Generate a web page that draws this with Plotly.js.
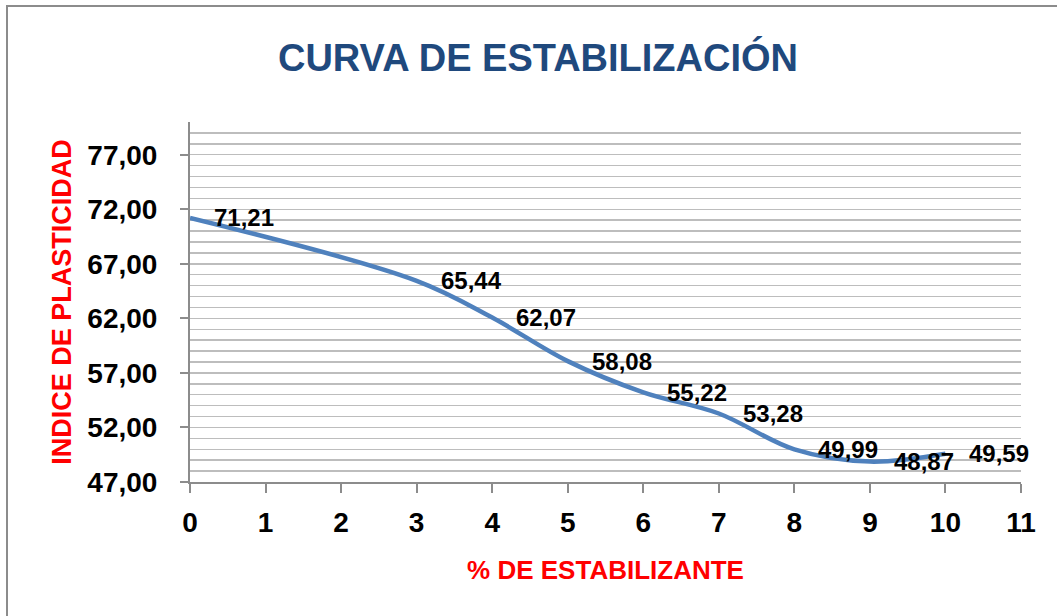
<!DOCTYPE html>
<html>
<head>
<meta charset="utf-8">
<script src="https://cdn.plot.ly/plotly-3.0.1.min.js"></script>
<style>
  html, body { margin: 0; padding: 0; background: #fff; }
  #wrap { position: relative; width: 1057px; height: 616px; overflow: hidden; }
  #chart { width: 1057px; height: 616px; }
  #frame { position: absolute; left: 6px; top: 5px; width: 1200px; height: 800px;
           border-left: 2px solid #8C8C8C; border-top: 2px solid #8C8C8C; pointer-events: none; }
</style>
</head>
<body>
<div id="wrap">
  <div id="chart"></div>
  <div id="frame"></div>
</div>
<script>
// Data
const estabilizante = [0, 3, 4, 5, 6, 7, 8, 9, 10];
const indicePlasticidad = [71.21, 65.44, 62.07, 58.08, 55.22, 53.28, 49.99, 48.87, 49.59];
const xTickVals = [0, 1, 2, 3, 4, 5, 6, 7, 8, 9, 10, 11];
const chartTitle = 'CURVA DE ESTABILIZACIÓN';
const xTitle = '% DE ESTABILIZANTE';
const yTitle = 'INDICE DE PLASTICIDAD';

const FONT = '"Liberation Sans", Arial, sans-serif';

const trace = {
  x: estabilizante,
  y: indicePlasticidad,
  type: 'scatter',
  mode: 'lines',
  line: { color: '#4F81BD', width: 4.5, shape: 'spline', smoothing: 1 },
  hoverinfo: 'x+y'
};

const labels = estabilizante.map((xv, i) => ({
  x: xv,
  y: indicePlasticidad[i],
  xref: 'x', yref: 'y',
  text: indicePlasticidad[i].toFixed(2).replace('.', ','),
  showarrow: false,
  xanchor: 'left',
  yanchor: 'middle',
  xshift: 22,
  font: { family: FONT, size: 24, color: '#000', weight: 'bold' }
}));

const layout = {
  width: 1057,
  height: 616,
  margin: { l: 190, r: 36, t: 122, b: 134 },
  paper_bgcolor: '#ffffff',
  plot_bgcolor: '#ffffff',
  showlegend: false,
  separators: ',.',
  title: {
    text: chartTitle,
    font: { family: FONT, size: 38, color: '#1F497D', weight: 'bold' },
    x: 0.509, xanchor: 'center',
    y: 0.907, yanchor: 'middle'
  },
  xaxis: {
    range: [0, 11],
    tickvals: xTickVals,
    ticktext: xTickVals.map(String),
    showgrid: false,
    zeroline: false,
    showline: true,
    linecolor: '#8C8C8C',
    linewidth: 2,
    ticks: 'outside',
    ticklen: 9,
    tickwidth: 2,
    tickcolor: '#8C8C8C',
    ticklabelstandoff: 5,
    tickfont: { family: FONT, size: 28, color: '#000', weight: 'bold' },
    title: {
      text: xTitle,
      font: { family: FONT, size: 26, color: '#FF0000', weight: 'bold' },
      standoff: 24
    },
    fixedrange: true
  },
  yaxis: {
    range: [47, 80],
    tick0: 47,
    dtick: 5,
    tickformat: '.2f',
    showgrid: true,
    gridcolor: '#BDBDBD',
    gridwidth: 1.5,
    minor: { dtick: 1, tick0: 47, showgrid: true, gridcolor: '#BDBDBD', gridwidth: 1.5, ticks: '' },
    zeroline: false,
    showline: true,
    linecolor: '#8C8C8C',
    linewidth: 2,
    ticks: 'outside',
    ticklen: 8,
    tickwidth: 2,
    tickcolor: '#8C8C8C',
    ticklabelstandoff: 17,
    tickfont: { family: FONT, size: 28, color: '#000', weight: 'bold' },
    title: {
      text: yTitle,
      font: { family: FONT, size: 27, color: '#FF0000', weight: 'bold' },
      standoff: 8
    },
    fixedrange: true
  },
  annotations: labels
};

Plotly.newPlot('chart', [trace], layout, { displayModeBar: false, staticPlot: true });
</script>
</body>
</html>
